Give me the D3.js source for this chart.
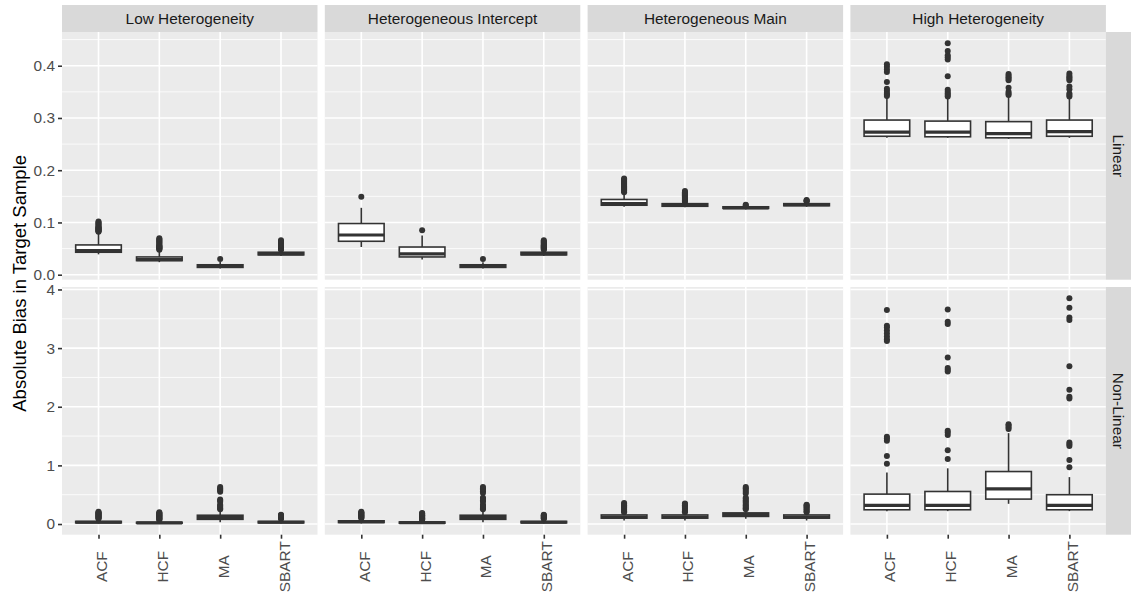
<!DOCTYPE html>
<html>
<head>
<meta charset="utf-8">
<title>Absolute bias boxplots</title>
<script src="https://d3js.org/d3.v7.min.js"></script>
<style>
  body { margin: 0; background: #fff; }
  text { font-family: "Liberation Sans", Arial, Helvetica, sans-serif; }
</style>
</head>
<body>
<script>
// facets and categories
var rowNames = ["Linear", "Non-Linear"];
var colNames = ["Low Heterogeneity", "Heterogeneous Intercept", "Heterogeneous Main", "High Heterogeneity"];
var methods = ["ACF", "HCF", "MA", "SBART"];

// box stats per column, per method: [lower whisker, q1, median, q3, upper whisker]
var linearStats = [
  [[0.039, 0.043, 0.046, 0.057, 0.080], [0.024, 0.027, 0.029, 0.034, 0.046], [0.012, 0.014, 0.016, 0.019, 0.025], [0.036, 0.038, 0.040, 0.043, 0.046]],
  [[0.053, 0.064, 0.076, 0.098, 0.128], [0.029, 0.034, 0.040, 0.053, 0.075], [0.012, 0.014, 0.016, 0.019, 0.024], [0.036, 0.038, 0.040, 0.043, 0.046]],
  [[0.130, 0.133, 0.136, 0.144, 0.156], [0.129, 0.131, 0.133, 0.136, 0.138], [0.125, 0.127, 0.128, 0.130, 0.132], [0.130, 0.132, 0.134, 0.136, 0.139]],
  [[0.262, 0.265, 0.273, 0.296, 0.340], [0.262, 0.264, 0.273, 0.294, 0.338], [0.260, 0.262, 0.270, 0.293, 0.340], [0.262, 0.265, 0.274, 0.296, 0.338]]
];
var linearOutliers = [
  [[0.082, 0.083, 0.084, 0.085, 0.086, 0.087, 0.088, 0.089, 0.090, 0.091, 0.092, 0.094, 0.096, 0.098, 0.100, 0.102],
   [0.048, 0.049, 0.050, 0.051, 0.052, 0.053, 0.054, 0.055, 0.056, 0.058, 0.060, 0.062, 0.064, 0.066, 0.068, 0.070],
   [0.030],
   [0.048, 0.049, 0.050, 0.051, 0.052, 0.053, 0.054, 0.055, 0.056, 0.057, 0.058, 0.060, 0.062, 0.064, 0.066]],
  [[0.149],
   [0.085],
   [0.030],
   [0.048, 0.049, 0.050, 0.051, 0.052, 0.053, 0.054, 0.055, 0.056, 0.057, 0.058, 0.060, 0.062, 0.064, 0.066]],
  [[0.158, 0.160, 0.162, 0.164, 0.166, 0.168, 0.170, 0.172, 0.174, 0.176, 0.178, 0.180, 0.182, 0.184],
   [0.140, 0.141, 0.142, 0.144, 0.146, 0.148, 0.150, 0.152, 0.154, 0.156, 0.158, 0.160],
   [0.133, 0.134],
   [0.140, 0.141, 0.142, 0.143]],
  [[0.342, 0.345, 0.348, 0.352, 0.356, 0.369, 0.388, 0.393, 0.398, 0.403],
   [0.341, 0.344, 0.347, 0.350, 0.354, 0.380, 0.412, 0.416, 0.420, 0.428, 0.443],
   [0.344, 0.347, 0.350, 0.358, 0.372, 0.375, 0.378, 0.381, 0.384],
   [0.341, 0.344, 0.347, 0.355, 0.360, 0.372, 0.375, 0.378, 0.381, 0.385]]
];

var nonLinearStats = [
  [[0.01, 0.020, 0.030, 0.045, 0.08], [0.01, 0.015, 0.020, 0.030, 0.06], [0.03, 0.08, 0.11, 0.15, 0.24], [0.01, 0.020, 0.030, 0.045, 0.08]],
  [[0.01, 0.025, 0.040, 0.055, 0.09], [0.01, 0.015, 0.025, 0.035, 0.06], [0.03, 0.08, 0.11, 0.15, 0.24], [0.01, 0.020, 0.030, 0.045, 0.08]],
  [[0.06, 0.10, 0.12, 0.155, 0.19], [0.06, 0.10, 0.12, 0.155, 0.19], [0.09, 0.13, 0.16, 0.19, 0.24], [0.06, 0.10, 0.12, 0.155, 0.19]],
  [[0.22, 0.243, 0.317, 0.51, 0.88], [0.22, 0.243, 0.317, 0.555, 0.95], [0.345, 0.425, 0.60, 0.895, 1.55], [0.22, 0.243, 0.317, 0.50, 0.80]]
];
var nonLinearOutliers = [
  [[0.09, 0.10, 0.11, 0.12, 0.13, 0.14, 0.15, 0.16, 0.17, 0.18, 0.19, 0.20, 0.21],
   [0.07, 0.08, 0.09, 0.10, 0.11, 0.12, 0.13, 0.14, 0.15, 0.16, 0.17, 0.18, 0.19, 0.20],
   [0.25, 0.27, 0.29, 0.31, 0.33, 0.38, 0.40, 0.42, 0.55, 0.57, 0.59, 0.61, 0.63],
   [0.09, 0.10, 0.11, 0.12, 0.13, 0.14, 0.15, 0.16]],
  [[0.10, 0.11, 0.12, 0.13, 0.14, 0.15, 0.16, 0.17, 0.18, 0.19, 0.20, 0.21],
   [0.07, 0.08, 0.09, 0.10, 0.11, 0.12, 0.13, 0.14, 0.15, 0.16, 0.17, 0.18, 0.19],
   [0.25, 0.27, 0.29, 0.31, 0.33, 0.38, 0.40, 0.43, 0.45, 0.53, 0.56, 0.59, 0.61, 0.63],
   [0.09, 0.10, 0.11, 0.12, 0.13, 0.14, 0.15, 0.16]],
  [[0.20, 0.22, 0.24, 0.26, 0.28, 0.30, 0.32, 0.34, 0.36],
   [0.20, 0.22, 0.24, 0.26, 0.28, 0.30, 0.32, 0.34, 0.35],
   [0.25, 0.27, 0.29, 0.31, 0.33, 0.36, 0.38, 0.40, 0.43, 0.45, 0.52, 0.55, 0.58, 0.61, 0.63],
   [0.20, 0.22, 0.24, 0.26, 0.28, 0.30, 0.32, 0.33]],
  [[1.03, 1.16, 1.42, 1.46, 1.49, 3.12, 3.15, 3.20, 3.25, 3.30, 3.35, 3.38, 3.65],
   [1.11, 1.26, 1.52, 1.56, 1.59, 2.60, 2.63, 2.66, 2.84, 3.41, 3.45, 3.66],
   [1.62, 1.65, 1.68, 1.70],
   [0.97, 1.09, 1.33, 1.36, 1.39, 2.14, 2.17, 2.29, 2.69, 3.48, 3.52, 3.69, 3.85]]
];

// y ticks per row
var linearTicks = [0, 0.1, 0.2, 0.3, 0.4];
var linearMinor = [0.05, 0.15, 0.25, 0.35, 0.45];
var nonLinearTicks = [0, 1, 2, 3, 4];
var nonLinearMinor = [0.5, 1.5, 2.5, 3.5];

var W = 1131, H = 597;
var padLeft = 62, padTop = 32, panelW = 255.5, panelH = 247.7, gap = 7.3;
var stripH = 27, stripW = 25.5;
var fs = "15.4px";

var svg = d3.select("body").append("svg").attr("width", W).attr("height", H);

var rowsData = [
  { name: rowNames[0], stats: linearStats, out: linearOutliers, ticks: linearTicks, minor: linearMinor, fmt: d3.format(".1f") },
  { name: rowNames[1], stats: nonLinearStats, out: nonLinearOutliers, ticks: nonLinearTicks, minor: nonLinearMinor, fmt: d3.format("d") }
];

var x = d3.scalePoint().domain(methods).range([0, panelW]).padding(0.6);
var boxW = x.step() * 0.75;

rowsData.forEach(function (row, ri) {
  // y range from all values of the row, expanded 5% like ggplot
  var all = [];
  row.stats.forEach(c => c.forEach(s => all.push(...s)));
  row.out.forEach(c => c.forEach(o => all.push(...o)));
  var ext = d3.extent(all), pad = (ext[1] - ext[0]) * 0.05;
  var py = padTop + ri * (panelH + gap);
  var y = d3.scaleLinear().domain([ext[0] - pad, ext[1] + pad]).range([py + panelH, py]);

  colNames.forEach(function (cn, ci) {
    var px = padLeft + ci * (panelW + gap);
    var g = svg.append("g").attr("transform", "translate(" + px + ",0)");
    g.append("rect").attr("x", 0).attr("y", py).attr("width", panelW).attr("height", panelH).attr("fill", "#EBEBEB");

    g.selectAll(".minor").data(row.minor).enter().append("line")
      .attr("x1", 0).attr("x2", panelW).attr("y1", d => y(d)).attr("y2", d => y(d))
      .attr("stroke", "#fff").attr("stroke-width", 0.8);
    g.selectAll(".major").data(row.ticks).enter().append("line")
      .attr("x1", 0).attr("x2", panelW).attr("y1", d => y(d)).attr("y2", d => y(d))
      .attr("stroke", "#fff").attr("stroke-width", 1.6);
    g.selectAll(".vgrid").data(methods).enter().append("line")
      .attr("x1", d => x(d)).attr("x2", d => x(d)).attr("y1", py).attr("y2", py + panelH)
      .attr("stroke", "#fff").attr("stroke-width", 1.6);

    methods.forEach(function (m, mi) {
      var s = row.stats[ci][mi], cx = x(m);
      var b = g.append("g");
      b.append("line").attr("x1", cx).attr("x2", cx).attr("y1", y(s[0])).attr("y2", y(s[1]))
        .attr("stroke", "#333").attr("stroke-width", 1.6);
      b.append("line").attr("x1", cx).attr("x2", cx).attr("y1", y(s[3])).attr("y2", y(s[4]))
        .attr("stroke", "#333").attr("stroke-width", 1.6);
      b.append("rect").attr("x", cx - boxW / 2).attr("width", boxW)
        .attr("y", y(s[3])).attr("height", Math.max(0, y(s[1]) - y(s[3])))
        .attr("fill", "#fff").attr("stroke", "#333").attr("stroke-width", 1.6);
      b.append("line").attr("x1", cx - boxW / 2).attr("x2", cx + boxW / 2).attr("y1", y(s[2])).attr("y2", y(s[2]))
        .attr("stroke", "#333").attr("stroke-width", 3.2);
      b.selectAll("circle").data(row.out[ci][mi]).enter().append("circle")
        .attr("cx", cx).attr("cy", d => y(d)).attr("r", 3).attr("fill", "#333");
    });

    if (ri == 0) { // top strip
      svg.append("rect").attr("x", px).attr("y", padTop - stripH).attr("width", panelW).attr("height", stripH).attr("fill", "#D9D9D9");
      svg.append("text").attr("x", px + panelW / 2).attr("y", padTop - stripH / 2).attr("dy", "0.35em")
        .attr("text-anchor", "middle").attr("font-size", fs).attr("fill", "#1A1A1A").text(cn);
    }
    if (ri == 1) { // x axis
      var ax = svg.append("g").attr("transform", "translate(" + px + "," + (py + panelH) + ")")
        .call(d3.axisBottom(x).tickSize(4));
      ax.select(".domain").remove();
      ax.selectAll(".tick line").attr("stroke", "#333").attr("stroke-width", 1.6);
      ax.selectAll(".tick text").attr("y", 0).attr("dy", 0)
        .attr("transform", "translate(8,32) rotate(-90)")
        .attr("text-anchor", "middle").attr("font-size", fs).attr("fill", "#4D4D4D")
        .attr("font-family", "Liberation Sans, Arial, sans-serif");
    }
  });

  // y axis
  var ay = svg.append("g").attr("transform", "translate(" + padLeft + ",0)")
    .call(d3.axisLeft(y).tickValues(row.ticks).tickFormat(row.fmt).tickSize(4).tickPadding(3));
  ay.select(".domain").remove();
  ay.selectAll(".tick line").attr("stroke", "#333").attr("stroke-width", 1.6);
  ay.selectAll(".tick text").attr("font-size", fs).attr("fill", "#4D4D4D")
    .attr("font-family", "Liberation Sans, Arial, sans-serif");

  // right strip
  var sx = padLeft + 4 * panelW + 3 * gap;
  svg.append("rect").attr("x", sx).attr("y", py).attr("width", stripW).attr("height", panelH).attr("fill", "#D9D9D9");
  svg.append("text").attr("transform", "translate(" + (sx + stripW / 2) + "," + (py + panelH / 2) + ") rotate(90)")
    .attr("dy", "0.35em").attr("text-anchor", "middle").attr("font-size", fs).attr("fill", "#1A1A1A").text(row.name);
});

svg.append("text").attr("transform", "translate(25.5," + (padTop + panelH + gap / 2) + ") rotate(-90)")
  .attr("text-anchor", "middle").attr("font-size", "18.5px").attr("fill", "#000")
  .text("Absolute Bias in Target Sample");
</script>
</body>
</html>
